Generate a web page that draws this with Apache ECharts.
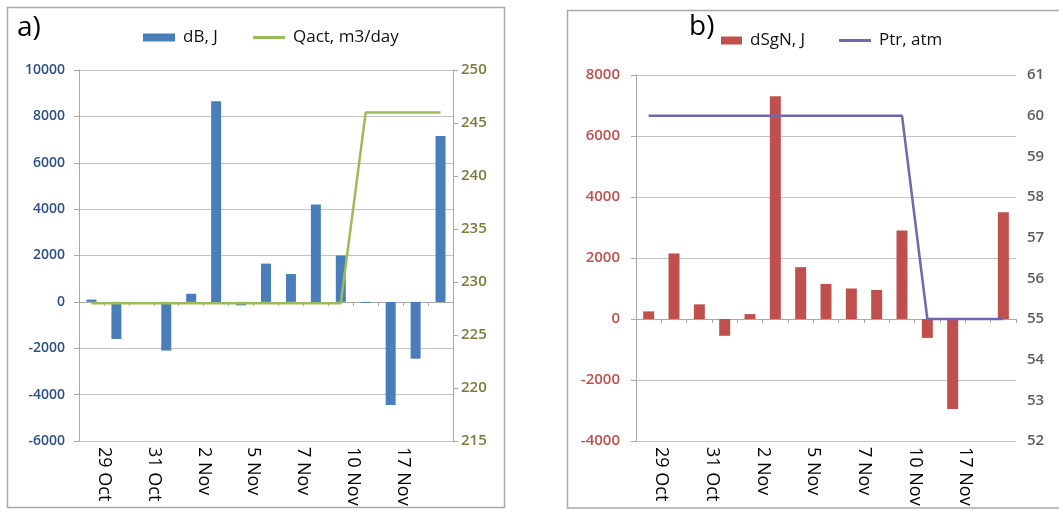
<!DOCTYPE html>
<html>
<head>
<meta charset="utf-8">
<script src="https://cdn.jsdelivr.net/npm/echarts@6/dist/echarts.min.js"></script>
<style>
html,body{margin:0;padding:0;background:#fff;}
#c{width:1059px;height:511px;}
</style>
</head>
<body>
<div id="c"></div>
<script>
// ---- data ----
const categories = ['p1','p2','p3','p4','p5','p6','p7','p8','p9','p10','p11','p12','p13','p14','p15'];
const dateLabels = ['29 Oct','31 Oct','2 Nov','5 Nov','7 Nov','10 Nov','17 Nov'];
const dB   = [100, -1600, 0, -2100, 350, 8650, -150, 1650, 1200, 4200, 2000, -40, -4450, -2450, 7150];
const qact = [228, 228, 228, 228, 228, 228, 228, 228, 228, 228, 228, 246, 246, 246, 246];
const dSgN = [250, 2150, 480, -550, 160, 7300, 1700, 1150, 1000, 950, 2900, -620, -2950, 0, 3500];
const ptr  = [60, 60, 60, 60, 60, 60, 60, 60, 60, 60, 60, 55, 55, 55, 55];
const leftTicksA = {min: -6000, max: 10000, interval: 2000};
const rightTicksA = {min: 215, max: 250, interval: 5};
const leftTicksB = {min: -4000, max: 8000, interval: 2000};
const rightTicksB = {min: 52, max: 61, interval: 1};

// date labels sit on every second category boundary
const boundaryLabels = [];
for (let i = 0; i <= categories.length; i++) boundaryLabels.push('');
dateLabels.forEach((d, k) => { boundaryLabels[2 * k + 1] = d; });

const FONT = 'Open Sans';
const gridColor = '#C4C4C4';
const axisColor = '#A8A8A8';

function catAxis(gi, zeroIdx) {
  return {
    type: 'category', gridIndex: gi, data: categories,
    axisLabel: {show: false},
    axisLine: {show: true, onZero: true, onZeroAxisIndex: zeroIdx, lineStyle: {color: axisColor, width: 1}},
    axisTick: {show: true, interval: 0, length: 4, lineStyle: {color: axisColor}},
    splitLine: {show: false}
  };
}
function labelAxis(gi) {
  return {
    type: 'value', gridIndex: gi, position: 'bottom', min: 0, max: categories.length, interval: 1,
    axisLine: {show: false, onZero: false}, axisTick: {show: false}, splitLine: {show: false},
    axisLabel: {
      show: true, rotate: -90, margin: 6, fontFamily: FONT, fontSize: 18, color: '#000',
      showMinLabel: true, showMaxLabel: true,
      formatter: v => boundaryLabels[Math.round(v)] || ''
    }
  };
}
function valAxis(gi, pos, t, color, size, margin, showLine, split) {
  return {
    type: 'value', gridIndex: gi, position: pos, min: t.min, max: t.max, interval: t.interval,
    axisLine: {show: showLine, lineStyle: {color: axisColor, width: 1}},
    axisTick: {show: showLine, length: 5, lineStyle: {color: axisColor}},
    splitLine: {show: split, lineStyle: {color: gridColor, width: 1}},
    axisLabel: {color: color, fontFamily: FONT, fontSize: size, fontWeight: 600, margin: margin,
      formatter: v => String(v)}
  };
}
function legendAt(left, top, name, w, h) {
  return {left: left, top: top, itemWidth: w, itemHeight: h, icon: 'rect',
    data: [name],
    textStyle: {fontFamily: FONT, fontSize: 17, color: '#111', padding: [0, 0, 0, 3]}};
}

const chart = echarts.init(document.getElementById('c'), null, {renderer: 'canvas'});
chart.setOption({
  animation: false,
  backgroundColor: '#fff',
  grid: [
    {left: 79, top: 70, width: 374, height: 371},
    {left: 636, top: 75, width: 380, height: 366}
  ],
  xAxis: [catAxis(0, 0), labelAxis(0), catAxis(1, 2), labelAxis(1)],
  yAxis: [
    valAxis(0, 'left', leftTicksA, '#2F4F86', 14, 14, true, true),
    valAxis(0, 'right', rightTicksA, '#7C7C3E', 15, 8, true, false),
    valAxis(1, 'left', leftTicksB, '#C0504D', 15, 16, true, true),
    valAxis(1, 'right', rightTicksB, '#5E5E5E', 15, 11, false, false)
  ],
  legend: [
    legendAt(138, 24, 'dB, J', 32, 8),
    legendAt(248, 24, 'Qact, m3/day', 32, 3),
    legendAt(716, 27, 'dSgN, J', 21, 8),
    legendAt(834, 27, 'Ptr, atm', 32, 3)
  ],
  series: [
    {name: 'dB, J', type: 'bar', xAxisIndex: 0, yAxisIndex: 0, data: dB, barWidth: 10,
     itemStyle: {color: '#4A7EBB'}, z: 2},
    {name: 'Qact, m3/day', type: 'line', xAxisIndex: 0, yAxisIndex: 1, data: qact,
     symbol: 'none', lineStyle: {color: '#9BBB59', width: 2.5}, itemStyle: {color: '#9BBB59'}, z: 3},
    {name: 'dSgN, J', type: 'bar', xAxisIndex: 2, yAxisIndex: 2, data: dSgN, barWidth: 11,
     itemStyle: {color: '#C0504D'}, z: 2},
    {name: 'Ptr, atm', type: 'line', xAxisIndex: 2, yAxisIndex: 3, data: ptr,
     symbol: 'none', lineStyle: {color: '#7067AE', width: 2.5}, itemStyle: {color: '#7067AE'}, z: 3}
  ],
  graphic: [
    {type: 'rect', shape: {x: 7.5, y: 7.5, width: 497, height: 500},
     style: {fill: 'none', stroke: '#A9A9A9', lineWidth: 1.5}, silent: true, z: -1},
    {type: 'rect', shape: {x: 567.5, y: 10.5, width: 520, height: 497.5},
     style: {fill: 'none', stroke: '#A9A9A9', lineWidth: 1.5}, silent: true, z: -1},
    {type: 'text', left: 17, top: 14,
     style: {text: 'a)', font: '28px "Open Sans"', fill: '#000'}},
    {type: 'text', left: 689, top: 13,
     style: {text: 'b)', font: '28px "Open Sans"', fill: '#000'}}
  ]
});
</script>
</body>
</html>
